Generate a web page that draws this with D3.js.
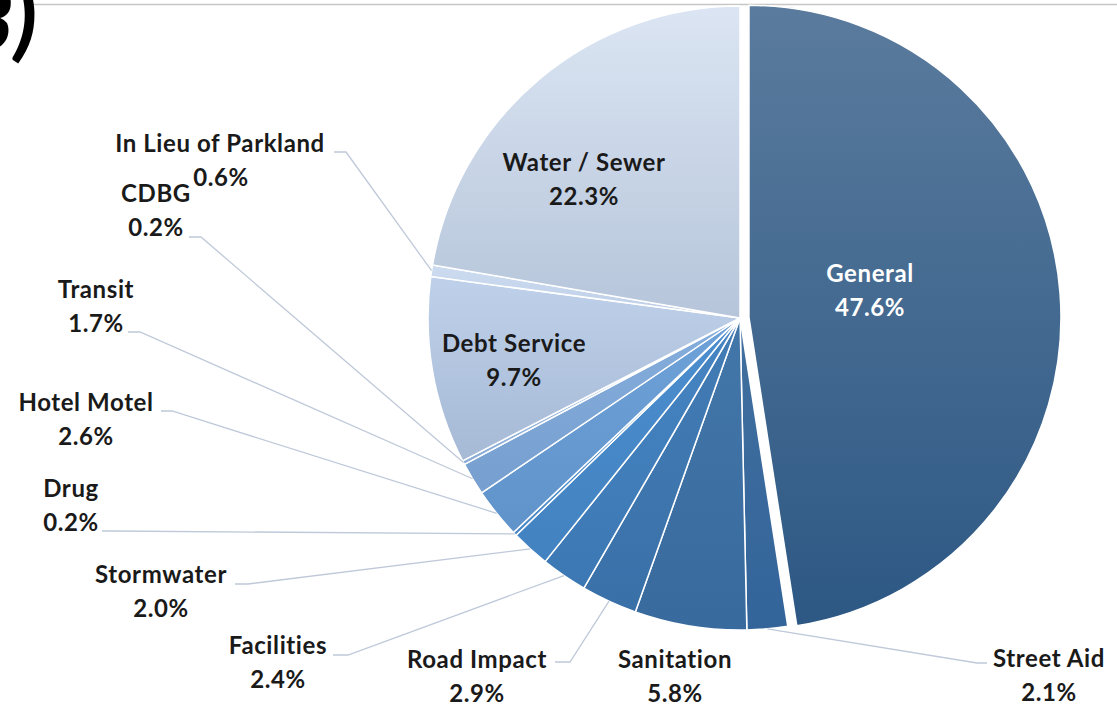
<!DOCTYPE html>
<head>
    <meta charset="utf-8">
    <title>Fund Share Pie</title>
    <script type="text/javascript" src="https://d3js.org/d3.v7.min.js"></script>
    <style>
        body { margin: 0; background: #fff; }
        text { font-family: Lato, "Open Sans", sans-serif; font-weight: 700; }
    </style>
</head>
<body>
    <div id="container"></div>

<script>
    //-----------------------------DATA-----------------------------//
    const funds = ["General", "Street Aid", "Sanitation", "Road Impact", "Facilities",
        "Stormwater", "Drug", "Hotel Motel", "Transit", "CDBG", "Debt Service",
        "In Lieu of Parkland", "Water / Sewer"];
    const shares = [47.6, 2.1, 5.8, 2.9, 2.4, 2.0, 0.2, 2.6, 1.7, 0.2, 9.7, 0.6, 22.3];

    //----------------------------STYLE-----------------------------//
    const topColors = ["#5a7b9d", "#41709f", "#4376a9", "#437db6", "#4685c3", "#4c8ecf",
        "#5593d2", "#6fa2d9", "#86aedd", "#9bbbe2", "#bfd1ea", "#cddcf0", "#dbe5f3"];
    const bottomColors = ["#2d5884", "#33649a", "#386a9e", "#3a70a8", "#3c78b3", "#4282c0",
        "#4b89c6", "#5f93ca", "#769fcf", "#8aacd6", "#a6b9d5", "#bccde6", "#b6c5da"];

    // label layout: centre x, baseline of first line, leader start (none for some)
    const labelLayout = [
        {x: 870, y: 282, white: true},
        {x: 1049, y: 667, lead: [[987, 663], [977, 663]]},
        {x: 675, y: 668},
        {x: 477, y: 668, lead: [[555, 662], [570, 662]]},
        {x: 278, y: 654, lead: [[333, 655], [348, 655]]},
        {x: 161, y: 583, lead: [[235, 584], [248, 584]]},
        {x: 71, y: 497, lead: [[102, 531], [112, 531]]},
        {x: 86, y: 411, lead: [[161, 411], [172, 411]]},
        {x: 96, y: 298, lead: [[128, 332], [140, 332]]},
        {x: 156, y: 202, lead: [[189, 237], [201, 237]]},
        {x: 514, y: 352},
        {x: 220, y: 152, lead: [[334, 152], [346, 152]], x2: 221, y2: 186},
        {x: 584, y: 171}
    ];

    const width = 1117;
    const height = 705;
    const cx = 740, cy = 318, radius = 312;
    const lineGap = 34;

    const svg = d3.select("div#container").append("svg")
        .attr("width", width)
        .attr("height", height);

    // top rule and the cut off "3)" heading
    svg.append("line")
        .attr("x1", 30).attr("x2", width)
        .attr("y1", 4.5).attr("y2", 4.5)
        .style("stroke", "#c6c6c6")
        .style("stroke-width", 1.5);

    svg.append("text")
        .attr("x", 37).attr("y", 50)
        .attr("text-anchor", "end")
        .style("font-size", "84px")
        .style("font-weight", 900)
        .style("font-style", "italic")
        .style("fill", "#000")
        .text("3)");

    //----------------------------GRADIENTS-------------------------//
    const defs = svg.append("defs");
    funds.forEach(function(f, i) {
        const g = defs.append("linearGradient")
            .attr("id", "grad-" + i)
            .attr("x1", 0).attr("y1", 0).attr("x2", 0).attr("y2", 1);
        g.append("stop").attr("offset", "0%").attr("stop-color", topColors[i]);
        g.append("stop").attr("offset", "100%").attr("stop-color", bottomColors[i]);
    });

    //-----------------------------PIE------------------------------//
    const pie = d3.pie().sort(null).value(function(d) { return d; });
    const slices = pie(shares);

    const arc = d3.arc().innerRadius(0).outerRadius(radius);
    const edge = d3.arc().innerRadius(radius).outerRadius(radius);
    const explode = 9;

    const chart = svg.append("g")
        .attr("transform", "translate(" + cx + "," + cy + ")");

    chart.selectAll("path.slice")
        .data(slices)
        .enter()
        .append("path")
        .attr("class", "slice")
        .attr("d", arc)
        .attr("transform", function(d, i) {
            if (i !== 0) return null;
            const a = (d.startAngle + d.endAngle) / 2;
            return "translate(" + (Math.sin(a) * explode) + "," + (-Math.cos(a) * explode) + ")";
        })
        .style("fill", function(d, i) { return "url(#grad-" + i + ")"; })
        .style("stroke", "#fff")
        .style("stroke-width", 1.5)
        .style("stroke-linejoin", "round");

    //----------------------------LEADERS---------------------------//
    const leader = d3.line();
    slices.forEach(function(d, i) {
        const L = labelLayout[i];
        if (!L.lead) return;
        const end = edge.centroid(d);
        const pts = L.lead.concat([[end[0] + cx, end[1] + cy]]);
        svg.append("path")
            .attr("d", leader(pts))
            .style("fill", "none")
            .style("stroke", "#bfc9d9")
            .style("stroke-width", 1.3);
    });

    //----------------------------LABELS----------------------------//
    slices.forEach(function(d, i) {
        const L = labelLayout[i];
        const t = svg.append("text")
            .attr("text-anchor", "middle")
            .style("font-size", "24px")
            .style("letter-spacing", "0.6px")
            .style("fill", L.white ? "#fff" : "#1a1a1a");
        t.append("tspan")
            .attr("x", L.x).attr("y", L.y)
            .text(funds[i]);
        t.append("tspan")
            .attr("x", L.x2 !== undefined ? L.x2 : L.x)
            .attr("y", L.y2 !== undefined ? L.y2 : L.y + lineGap)
            .text(shares[i].toFixed(1) + "%");
    });
</script>
</body>
